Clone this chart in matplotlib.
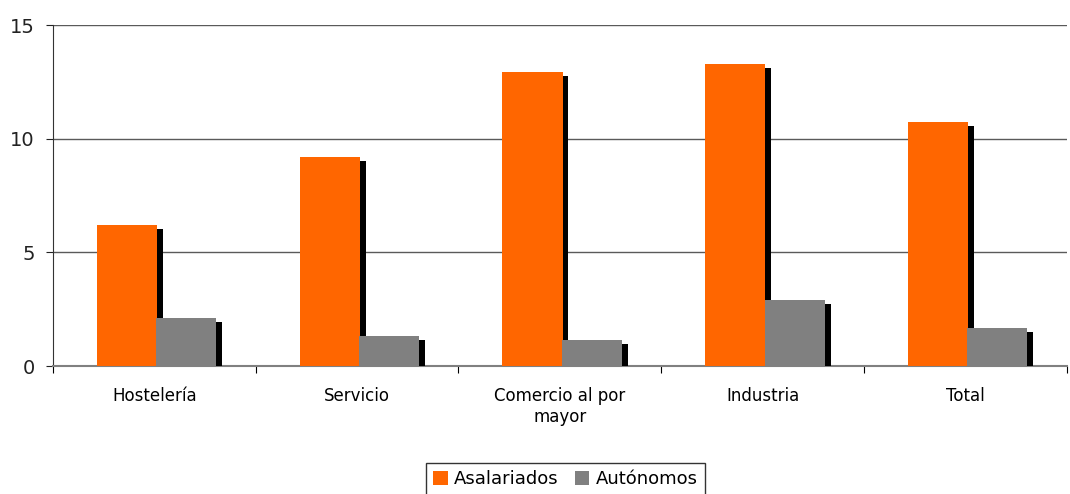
import numpy as np
import matplotlib.pyplot as plt
import matplotlib.patheffects as pe

categories = ['Hostelería', 'Servicio', 'Comercio al por\nmayor', 'Industria', 'Total']
asalariados = [6.2, 9.2, 12.93, 13.29, 10.73]
autonomos = [2.11, 1.32, 1.14, 2.9, 1.67]

plt.rcParams['font.family'] = 'DejaVu Sans'

fig = plt.figure(figsize=(10.7, 4.94), dpi=100)
ax = fig.add_axes([0.0495, 0.259, 0.9475, 0.69])

x = np.arange(len(categories))
w = 0.296
shadow = [pe.SimplePatchShadow(offset=(4.3, -2.9), shadow_rgbFace='black', alpha=1.0), pe.Normal()]

b1 = ax.bar(x - w / 2 + 0.013, asalariados, w, color='#FF6600', label='Asalariados', zorder=3)
b2 = ax.bar(x + w / 2 + 0.01, autonomos, w, color='#808080', label='Autónomos', zorder=3)
for b in list(b1) + list(b2):
    b.set_path_effects(shadow)

ax.set_xlim(-0.5, len(categories) - 0.5)
ax.set_ylim(0, 15)
ax.set_yticks([0, 5, 10, 15])
ax.yaxis.grid(True, color='#5a5a5a', linewidth=1)
ax.set_axisbelow(True)

ax.set_xticks(np.arange(len(categories) + 1) - 0.5, minor=False)
ax.set_xticklabels([])
ax.set_xticks(x, minor=True)
ax.set_xticklabels(categories, minor=True, fontsize=12)
ax.tick_params(axis='x', which='minor', length=0, pad=15)
ax.tick_params(axis='x', which='major', length=5, color='black', direction='out')
ax.tick_params(axis='y', length=5, labelsize=14, direction='out', pad=8, colors='#222222')

for s in ['top', 'right']:
    ax.spines[s].set_visible(False)
ax.spines['left'].set_color('#333333')
ax.spines['bottom'].set_color('#808080')
ax.spines['bottom'].set_linewidth(1.5)

leg = fig.legend(handles=[b1, b2], loc='upper center', bbox_to_anchor=(0.5285, 0.063),
                 ncol=2, fontsize=13, frameon=True, fancybox=False, edgecolor='black',
                 handlelength=0.8, handleheight=0.8, handletextpad=0.35, columnspacing=0.9,
                 borderpad=0.4, borderaxespad=0)
leg.get_frame().set_linewidth(1)
for h in leg.legend_handles:
    h.set_path_effects([])

fig.savefig('out.png', dpi=100)
